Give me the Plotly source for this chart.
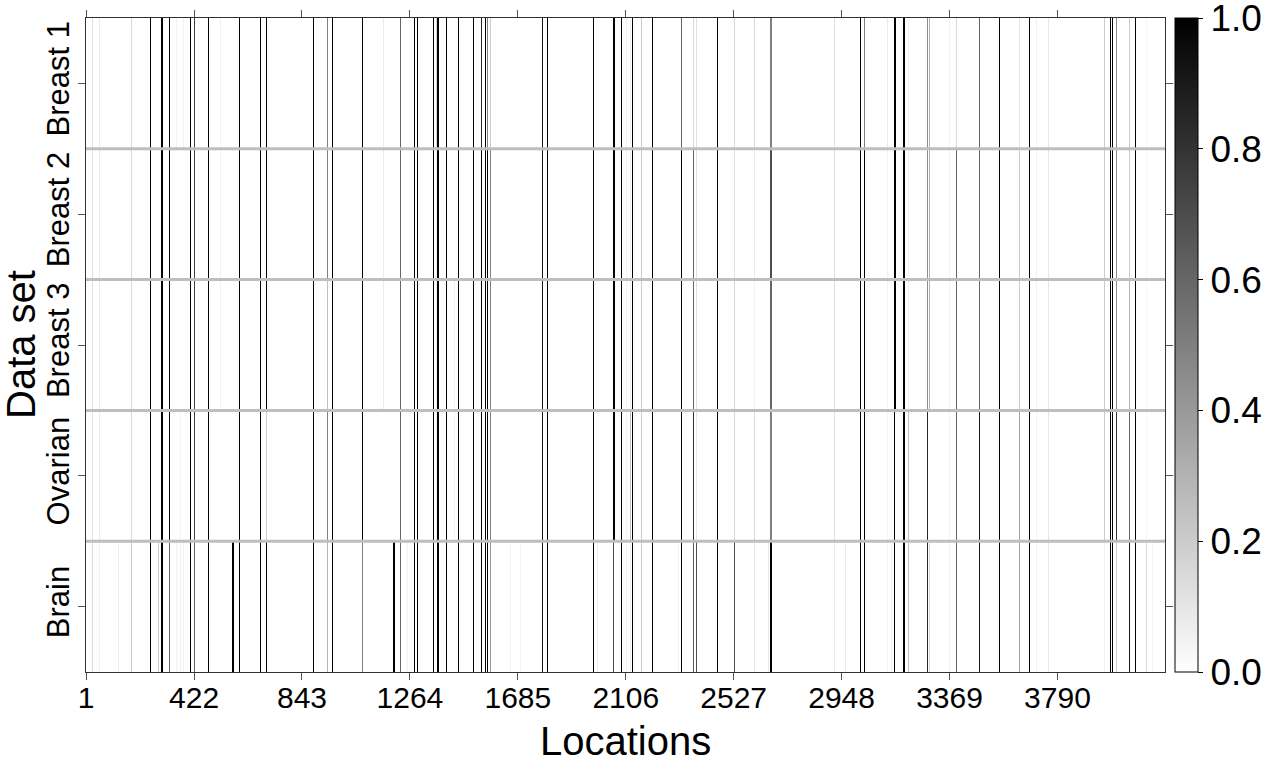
import plotly.graph_objects as go

# ---------------- data ----------------
row_labels = ["Brain", "Ovarian", "Breast 3", "Breast 2", "Breast 1"]
n_locations = 4209
tick_locations = [1, 422, 843, 1264, 1685, 2106, 2527, 2948, 3369, 3790]
colorbar_ticks = [0.0, 0.2, 0.4, 0.6, 0.8, 1.0]

locations = [27, 54, 126, 179, 254, 285, 296, 300, 327, 353, 369, 380, 410, 424, 479,
             525, 572, 576, 600, 682, 705, 888, 943, 962, 1079, 1161, 1201, 1205, 1228,
             1253, 1282, 1295, 1356, 1366, 1373, 1377, 1407, 1437, 1453, 1512, 1545,
             1560, 1568, 1580, 1655, 1694, 1781, 1800, 1980, 1995, 2057, 2061, 2088,
             2110, 2125, 2132, 2167, 2210, 2310, 2323, 2370, 2381, 2463, 2529, 2607,
             2663, 2670, 2674, 2919, 2962, 3020, 3036, 3126, 3144, 3156, 3160, 3188,
             3195, 3207, 3282, 3292, 3370, 3395, 3484, 3562, 3642, 3679, 3708, 3755,
             3973, 3996, 4003, 4022, 4070, 4096, 4137, 4161]

breast1 = [.12, .08, 0, .15, 1, 0, 1, 1, 1, .05, 0, .05, 1, .75, 1,
           .05, 0, 0, 1, 1, 1, 1, .5, 1, 1, .08, 0, 0, .6,
           0, 1, 1, 1, .15, 1, 1, 1, 0, 1, 1, .85,
           1, .5, .2, 0, 0, .9, 1, 1, 0, 1, 1, 1,
           .05, .05, 1, .2, 1, 0, .6, .15, .12, 1, .15, .15,
           0, .5, .5, .12, 0, 1, .5, .08, 0, 1, 1, 1,
           1, .05, .45, .3, .05, .15, .6, 1, .1, 1, .05, .1,
           .2, 1, 1, .45, .2, 1, .03, 0]
breast2 = [.12, .08, 0, .15, 1, 0, 1, 1, 1, 0, 0, 0, 1, .75, 1,
           .05, 0, 0, 1, 1, 1, 1, .5, 1, 1, .08, 0, 0, .6,
           0, 1, 1, 1, .05, 1, 1, 1, 0, 1, 1, 1,
           1, 1, .5, 0, 0, .9, 1, 1, 0, 1, 1, 1,
           .05, .05, 1, .2, 1, 0, 1, .6, .12, 1, .12, .08,
           0, .7, .7, .12, 0, 1, 1, .05, 0, 1, 1, 1,
           1, .05, .45, .3, .05, .6, .6, 1, .2, 1, .05, .1,
           .2, 1, 1, .45, .2, 1, .03, 0]
breast3 = [.12, .08, 0, .15, 1, 0, 1, 1, 1, 0, 0, 0, 1, .75, 1,
           .05, 0, 0, 1, 1, 1, 1, .25, 1, 1, .08, 0, 0, .6,
           0, 1, 1, 1, .05, 1, 1, 1, .05, 1, 1, 1,
           1, 1, .5, 0, 0, .9, 1, 1, 0, 1, 1, 1,
           .05, .05, 1, .2, 1, 0, 1, .6, .12, 1, .15, .05,
           0, .6, .6, .12, 0, 1, 1, .05, 0, 1, 1, 1,
           1, .05, .45, .3, .05, .6, .6, 1, .2, 1, .05, .1,
           .2, 1, 1, .45, .3, 1, .03, 0]
ovarian = [.12, .08, 0, .15, 1, 0, 1, 1, 1, 0, .04, 0, 1, .75, 1,
           0, 0, 0, 1, 1, .2, 1, .5, 1, 1, 0, 0, 0, .6,
           0, 1, 1, 1, .05, 1, 1, 1, .05, 1, 1, 1,
           1, 1, .5, 0, 0, .9, 1, 1, 0, 1, 1, 1,
           .05, .25, 1, .2, 1, 0, 1, .8, .1, 1, .15, .15,
           0, .5, .5, .12, 0, 1, 1, .05, 0, 1, 0, 1,
           1, .25, .85, 0, .05, .6, .9, 1, .35, 1, .05, .1,
           .2, 1, 1, .8, .6, 1, .03, 0]
brain = [.15, .06, .06, .2, 1, .2, 1, 1, .6, .05, .05, .05, 1, .6, 1,
         0, 1, 1, 1, 1, 1, 1, .3, 1, .5, 0, 1, 1, .6,
         .06, 1, 1, 1, 0, 1, 1, 1, 0, 1, 1, 1,
         1, 1, .4, .05, .05, .9, 1, 1, .05, .7, 0, 1,
         .05, .05, 1, .2, 1, .05, 1, .65, .7, 1, .7, .1,
         .1, 1, 1, .08, .08, 1, 1, .05, .05, 1, 0, 1,
         1, .25, .85, .15, .05, .6, .9, 1, .35, 1, .05, .1,
         .05, 1, 1, .2, .9, 1, .15, .05]

series = [brain, ovarian, breast3, breast2, breast1]

# ---------------- build brick edges for the heatmap ----------------
HALF = 1.96  # display half-width of one location brick (about one screen pixel)
order = sorted(range(len(locations)), key=lambda i: locations[i])
edges = [0.5]
cols = []
for i in order:
    a = max(locations[i] - HALF, edges[-1])
    b = locations[i] + HALF
    if a > edges[-1]:
        edges.append(a)
        cols.append(None)
    edges.append(b)
    cols.append(i)
if edges[-1] < n_locations + 0.5:
    edges.append(n_locations + 0.5)
    cols.append(None)

z = [[(s[i] if i is not None else 0) for i in cols] for s in series]

FONT = "Liberation Sans, Arial, Helvetica, sans-serif"

cb_tickvals = list(colorbar_ticks)
cb_ticktext = ["%.1f" % v for v in colorbar_ticks]

fig = go.Figure()
fig.add_trace(go.Heatmap(
    x=edges, y=list(range(len(row_labels))), z=z,
    zmin=0, zmax=1, zsmooth=False,
    colorscale=[[0, "#ffffff"], [1, "#000000"]],
    hoverinfo="skip",
    colorbar=dict(
        x=1.0093, xanchor="left", xpad=0, ypad=0,
        y=0.5, yanchor="middle", len=1, lenmode="fraction",
        thickness=23, outlinecolor="#000000", outlinewidth=1,
        tickvals=cb_tickvals, ticktext=cb_ticktext,
        ticks="outside", ticklen=5, tickcolor="#000000",
        ticklabeloverflow="allow",
        tickfont=dict(family=FONT, size=37, color="#000000"),
    ),
))

for k in range(len(row_labels) - 1):
    fig.add_shape(type="line", xref="paper", x0=0, x1=1, yref="y", y0=k + 0.5, y1=k + 0.5,
                  line=dict(color="#bebebe", width=3), layer="above")

fig.update_xaxes(
    range=[0.5, n_locations + 0.5], tickvals=tick_locations,
    ticktext=[str(t) for t in tick_locations],
    showline=True, linecolor="#333333", linewidth=1, mirror="ticks",
    ticks="outside", ticklen=7, tickcolor="#555555",
    showgrid=False, zeroline=False, automargin=False,
    ticklabelstandoff=-8,
    tickfont=dict(family=FONT, size=30, color="#000000"),
)
fig.update_yaxes(
    range=[-0.5, len(row_labels) - 0.5], tickvals=list(range(len(row_labels))), ticktext=row_labels,
    tickangle=-90,
    showline=True, linecolor="#333333", linewidth=1, mirror="ticks",
    ticks="outside", ticklen=7, tickcolor="#555555",
    showgrid=False, zeroline=False, automargin=False,
    ticklabelstandoff=-3,
    tickfont=dict(family=FONT, size=31, color="#000000"),
)

# axis titles
fig.add_annotation(text="Locations", xref="paper", yref="paper", x=0.5, y=0,
                   xanchor="center", yanchor="middle", yshift=-69, showarrow=False,
                   borderpad=0, font=dict(family=FONT, size=40, color="#000000"))
fig.add_annotation(text="Data set", xref="paper", yref="paper", x=0, y=0.5,
                   xanchor="center", yanchor="middle", xshift=-65, textangle=-90,
                   showarrow=False, borderpad=0,
                   font=dict(family=FONT, size=40, color="#000000"))

fig.update_layout(
    width=1268, height=762,
    margin=dict(l=86, r=103, t=18, b=90, autoexpand=False),
    paper_bgcolor="#ffffff", plot_bgcolor="#ffffff",
    showlegend=False,
)

fig.write_html("out.html", config={"displayModeBar": False},
               post_script="document.body.style.margin='0px';")
